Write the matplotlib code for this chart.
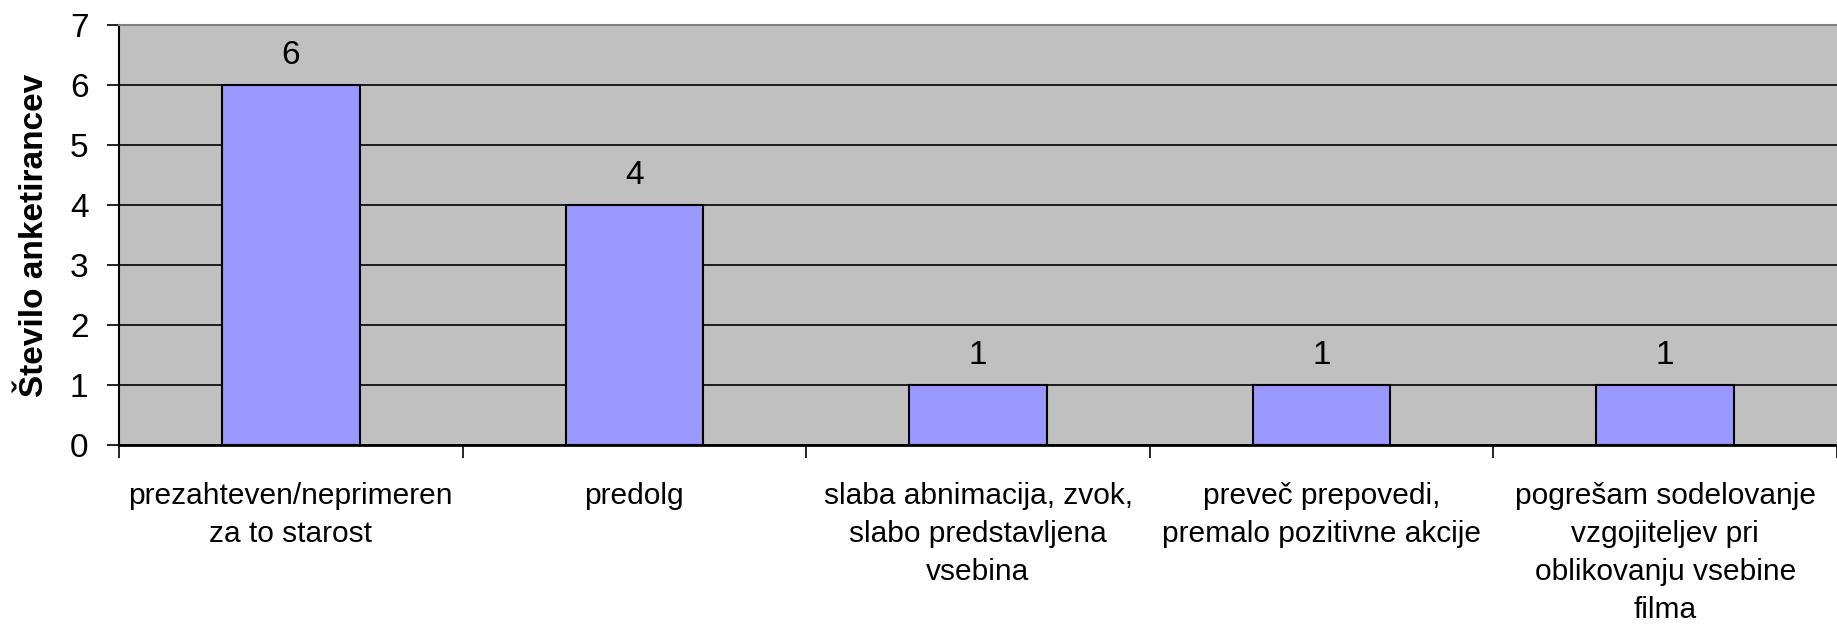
import numpy as np
import matplotlib
matplotlib.use('Agg')
import matplotlib.pyplot as plt

kategorije = ["prezahteven/neprimeren\nza to starost",
              "predolg",
              "slaba abnimacija, zvok,\nslabo predstavljena\nvsebina",
              "preveč prepovedi,\npremalo pozitivne akcije",
              "pogrešam sodelovanje\nvzgojiteljev pri\noblikovanju vsebine\nfilma"]
vrednosti = [6, 4, 1, 1, 1]
y_oznaka = "Število anketirancev"

plt.rcParams['font.family'] = ['Liberation Sans', 'DejaVu Sans']

fig = plt.figure(figsize=(18.37, 6.24), dpi=100)
ax = fig.add_axes([119/1837., 1-445/624., 1-119/1837., (445-25)/624.])
ax.set_facecolor('#C0C0C0')

x = np.arange(len(vrednosti))
ax.bar(x, vrednosti, width=0.4, color='#9999FF', edgecolor='black', linewidth=1.5, zorder=3)

# oznake vrednosti nad stolpci
for xi, v in zip(x, vrednosti):
    ax.annotate(str(v), (xi, v), xytext=(0, 21), textcoords='offset points',
                ha='center', va='center', fontsize=24, zorder=4)

ax.set_xlim(-0.5, len(vrednosti)-0.5)
ax.set_ylim(0, 7)
ax.set_yticks(range(8))
ax.yaxis.grid(True, color='black', linewidth=1.2, zorder=1)
ax.set_axisbelow(True)

# crtice med kategorijami, napisi na sredini
ax.set_xticks(np.arange(len(vrednosti)+1)-0.5)
ax.set_xticklabels([])
ax.set_xticks(x, minor=True)
ax.set_xticklabels(kategorije, minor=True, fontsize=21.5, linespacing=1.45)
ax.tick_params(axis='x', which='major', length=9, width=1.2, direction='out')
ax.tick_params(axis='x', which='minor', length=0, pad=27)
ax.tick_params(axis='y', length=9, width=1.2, labelsize=24, pad=13)

ax.spines['right'].set_visible(False)
ax.spines['top'].set_color('#808080')
ax.spines['top'].set_linewidth(1.5)
ax.spines['left'].set_linewidth(1.5)
ax.spines['bottom'].set_linewidth(2)

ax.set_ylabel(y_oznaka, fontsize=24, fontweight='bold', labelpad=14)

plt.savefig('out.png', dpi=100)
